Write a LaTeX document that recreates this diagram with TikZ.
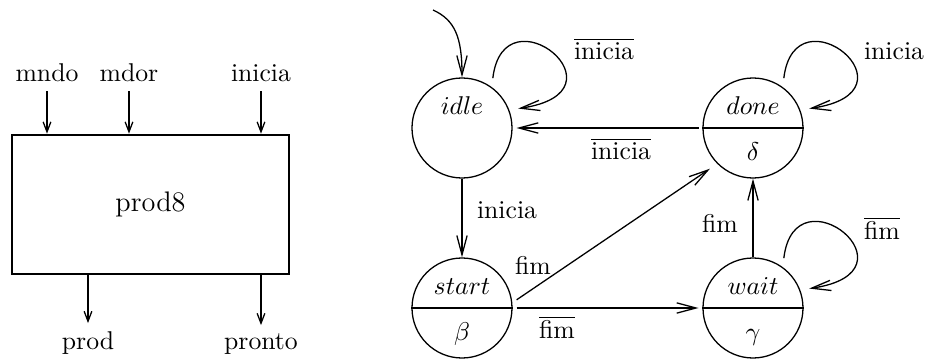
\documentclass[tikz,border=0pt]{standalone}
\usetikzlibrary{arrows.meta}
\tikzset{
  blk/.style={draw, line width=1pt, minimum width=107.8pt, minimum height=54.1pt, inner sep=0pt, font=\fontsize{11}{13}\selectfont},
  sig/.style={line width=0.5pt, -{Straight Barb[length=3.9pt,width=3pt]}},
  state/.style={circle, draw, line width=0.5pt, minimum size=38.9pt, inner sep=0pt},
  trans/.style={line width=0.5pt, -{Straight Barb[length=7.5pt,width=4pt]}},
  gap/.style={shorten <=1.5pt, shorten >=1.5pt},
  selfloop/.style={trans, shorten <=3.5pt, shorten >=3.5pt},
}
\begin{document}
\begin{tikzpicture}[x=0.389pt, y=0.389pt]
\useasboundingbox (0,0) rectangle (925,360);

% bloco prod8
\node[blk] (prod8) at (150.5,155.5) {prod8};
\node[anchor=base] (mndo) at (47,278) {mndo};
\node[anchor=base] (mdor) at (129,278) {mdor};
\node[anchor=base] (inicia) at (261,278) {inicia};
\node[anchor=base] (prod) at (88,10) {prod};
\node[anchor=base] (pronto) at (261,10) {pronto};
\draw[sig] (mndo) -- (mndo |- prod8.north);
\draw[sig] (mdor) -- (mdor |- prod8.north);
\draw[sig] (inicia) -- (inicia |- prod8.north);
\draw[sig] (prod8.south -| prod) -- (prod);
\draw[sig] (prod8.south -| pronto) -- (pronto);

% estados
\node[state] (idle) at (462,232) {};
\node[state] (start) at (462,52) {};
\node[state] (done) at (753,232) {};
\node[state] (wait) at (753,52) {};
\draw[line width=0.5pt] (start.west) -- (start.east);
\draw[line width=0.5pt] (done.west) -- (done.east);
\draw[line width=0.5pt] (wait.west) -- (wait.east);
\node[anchor=base] (idlenm) at (462,245) {$idle$};
\node[anchor=base] (startnm) at (462,65) {$start$};
\node[anchor=base] (startout) at (462,19) {$\beta$};
\node[anchor=base] (donenm) at (753,245) {$done$};
\node[anchor=base] (doneout) at (753,199) {$\delta$};
\node[anchor=base] (waitnm) at (753,65) {$wait$};
\node[anchor=base] (waitout) at (753,19) {$\gamma$};

% transicoes
\coordinate (init) at (433,350);
\draw[trans] (init) .. controls +(22,-10) and +(0,40) .. (idle.north);
\draw[trans] (idle) -- (start);
\draw[trans, gap] (done) -- (idle);
\draw[trans, gap] (start.east) -- (wait.west);
\draw[trans] (wait) -- (done);
\draw[trans, shorten <=2pt, shorten >=3.4pt] (start.6) -- (done.225);
\draw[selfloop] (idle.54) .. controls +(12,100) and +(124,18) .. (idle.21);
\draw[selfloop] (done.54) .. controls +(12,100) and +(124,18) .. (done.21);
\draw[selfloop] (wait.54) .. controls +(12,100) and +(124,18) .. (wait.21);

% rotulos
\node[anchor=base] (lidle) at (604,300) {$\overline{\mbox{inicia}}$};
\node[anchor=base] (ldone) at (894,300) {inicia};
\node[anchor=base] (lback) at (621,200) {$\overline{\mbox{inicia}}$};
\node[anchor=base] (lgo) at (507,141) {inicia};
\node[anchor=base] (lfim) at (533,85) {fim};
\node[anchor=base] (lnfim) at (557,21) {$\overline{\mbox{fim}}$};
\node[anchor=base] (lup) at (720,127) {fim};
\node[anchor=base] (lwait) at (882,120) {$\overline{\mbox{fim}}$};
\end{tikzpicture}
\end{document}
